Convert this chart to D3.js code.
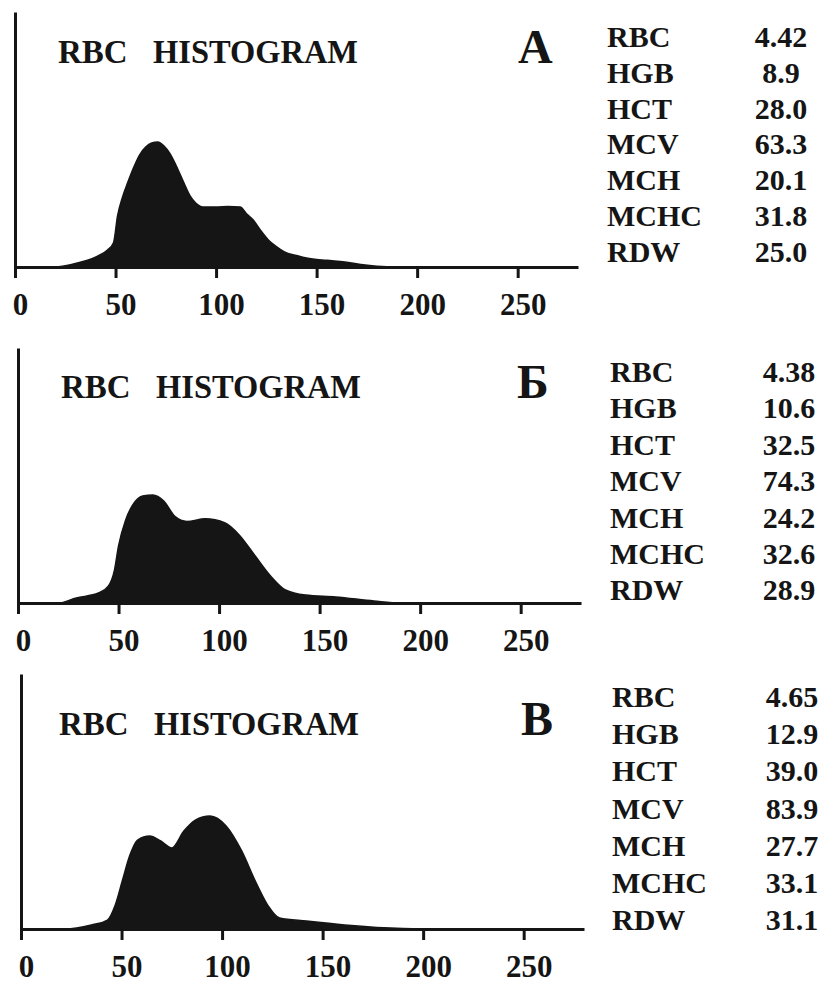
<!DOCTYPE html>
<html>
<head>
<meta charset="utf-8">
<script src="https://cdn.jsdelivr.net/npm/d3@7"></script>
<style>
  body { margin: 0; background: #fff; }
</style>
</head>
<body>
<svg id="chart" width="824" height="983" viewBox="0 0 824 983"></svg>
<script>
// panel letters
const panels = ["А", "Б", "В"]
const xTicks = [0, 50, 100, 150, 200, 250]

// relative count (100 = top of y axis) vs cell volume, fL
const histA = [[0,0],[20,0],[25,0.5],[31,1.6],[40,3.9],[46,6.7],[49,9.5],[51,20],[53.5,27.5],[56,33],[59,39],[62,44],[65,47],[68,48.6],[71,49],[74,47.5],[77,44.5],[80,40],[84,33],[87,28],[90,25],[94,23.5],[100,23.5],[106,23.7],[112,23.5],[115,21],[118.5,18.4],[122,14.5],[126,10.6],[130,8],[134,5.9],[140,4.5],[145,3.5],[155,2.6],[164,2],[172,1],[180,0.3],[190,0],[280,0]]
const histB = [[0,0],[20,0],[29,2],[40,3.9],[45,6.7],[48,13],[50,22.4],[53.5,32.5],[57,38.4],[62,42],[67,42.4],[72.5,40],[78,34],[84,32],[93,33],[103,31.4],[110,26.7],[118,18.4],[125.6,10.6],[133,5.1],[143,3.1],[158,2.4],[177,0.8],[190,0],[280,0]]
const histC = [[0,0],[22,0],[35,1.6],[43,3.5],[46.7,9],[50.5,19.2],[54,28.6],[58,34.9],[64,36.5],[69.5,34.5],[75,31.8],[81,38.4],[86.7,42.7],[94,44.3],[102,40.4],[109.5,31],[117,18],[123,9],[128.6,4.3],[142,3.1],[161,1.6],[190,0.2],[210,0],[280,0]]

const params = ["RBC", "HGB", "HCT", "MCV", "MCH", "MCHC", "RDW"]
const valuesA = ["4.42", "8.9", "28.0", "63.3", "20.1", "31.8", "25.0"]
const valuesB = ["4.38", "10.6", "32.5", "74.3", "24.2", "32.6", "28.9"]
const valuesC = ["4.65", "12.9", "39.0", "83.9", "27.7", "33.1", "31.1"]

const hists = [histA, histB, histC]
const values = [valuesA, valuesB, valuesC]

// where each panel sits on the page
const layout = [
    {x0: 15, base: 267, titleX: 58, titleY: 63, letterX: 518, tableX: 607, tableY: 47, step: 35.8, valX: 781},
    {x0: 18, base: 603, titleX: 61, titleY: 398, letterX: 517, tableX: 610, tableY: 382, step: 36.4, valX: 789},
    {x0: 21, base: 929, titleX: 59, titleY: 735, letterX: 521, tableX: 612, tableY: 707, step: 37.2, valX: 792}
]

const svg = d3.select("#chart")
const ink = "#151515"
const serif = "'Liberation Serif', 'Times New Roman', 'DejaVu Serif', serif"

function label(sel, size) {
    return sel.attr("font-family", serif)
        .attr("font-weight", "bold")
        .attr("font-size", size)
        .attr("fill", ink)
}

layout.forEach((p, i) => {
    const g = svg.append("g")

    const x = d3.scaleLinear().domain([0, 280]).range([p.x0, p.x0 + 563])
    const y = d3.scaleLinear().domain([0, 100]).range([p.base, p.base - 255])

    const area = d3.area()
        .x(d => x(d[0]))
        .y0(y(0))
        .y1(d => y(d[1]))
        .curve(d3.curveMonotoneX)

    g.append("path")
        .datum(hists[i])
        .attr("d", area)
        .attr("fill", ink)
        .attr("stroke", ink)
        .attr("stroke-width", 1.5)

    // x axis
    const xAxis = g.append("g")
        .attr("transform", `translate(0,${p.base})`)
        .call(d3.axisBottom(x).tickValues(xTicks).tickSize(11).tickSizeOuter(0).tickPadding(15))
    xAxis.attr("font-family", serif).attr("font-size", 31)
    xAxis.select(".domain").attr("stroke", ink).attr("stroke-width", 3)
    xAxis.selectAll(".tick line").attr("stroke", ink).attr("stroke-width", 3)
    xAxis.selectAll(".tick text").attr("dx", 5).call(label, 31)

    // y axis, no ticks
    const yAxis = g.append("g")
        .attr("transform", `translate(${p.x0},0)`)
        .call(d3.axisLeft(y).ticks(0).tickSizeOuter(0))
    yAxis.select(".domain").attr("stroke", ink).attr("stroke-width", 3)

    g.append("text")
        .attr("x", p.titleX).attr("y", p.titleY)
        .call(label, 33)
        .text("RBC")
    g.append("text")
        .attr("x", p.titleX + 95).attr("y", p.titleY)
        .call(label, 33)
        .attr("textLength", 205)
        .attr("lengthAdjust", "spacingAndGlyphs")
        .text("HISTOGRAM")

    g.append("text")
        .attr("x", p.letterX).attr("y", p.titleY)
        .call(label, 48)
        .text(panels[i])

    // parameter table
    g.selectAll(".param")
        .data(params)
        .enter()
        .append("text")
        .attr("x", p.tableX)
        .attr("y", (d, j) => p.tableY + j * p.step)
        .call(label, 30)
        .text(d => d)

    g.selectAll(".val")
        .data(values[i])
        .enter()
        .append("text")
        .attr("x", p.valX)
        .attr("y", (d, j) => p.tableY + j * p.step)
        .attr("text-anchor", "middle")
        .call(label, 30)
        .text(d => d)
})
</script>
</body>
</html>
